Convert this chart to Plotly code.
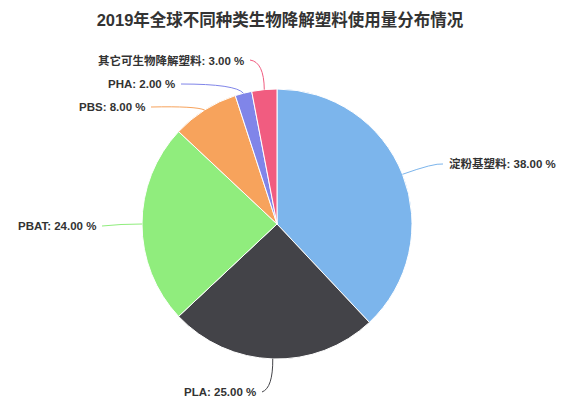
import math
import plotly.graph_objects as go

# ---- data ----
categories = ["淀粉基塑料", "PLA", "PBAT", "PBS", "PHA", "其它可生物降解塑料"]
shares = [38.0, 25.0, 24.0, 8.0, 2.0, 3.0]
colors = ["#7cb5ec", "#434348", "#90ed7d", "#f7a35c", "#8085e9", "#f15c80"]
title_text = "2019年全球不同种类生物降解塑料使用量分布情况"

# ---- layout (pixels, top-left origin) ----
W, H = 572, 406
CX, CY, R = 277, 224, 135
# label anchor (x, y, side) and connector bend point, per slice
label_pos = [(447, 164, "left"), (258, 392, "right"), (98, 226, "right"),
             (147, 107, "right"), (177, 84, "right"), (246, 60, "right")]
bends = [(434, 163), (273, 388), (120, 224), (196, 106), (236, 84), (264, 62)]

def px(x):
    return x / W

def py(y):
    return 1 - y / H

fig = go.Figure(go.Pie(
    labels=categories, values=shares, sort=False, direction="clockwise",
    rotation=0, textinfo="none", hoverinfo="label+percent",
    marker=dict(colors=colors, line=dict(color="white", width=1)),
    domain=dict(x=[px(CX - R), px(CX + R)], y=[py(CY + R), py(CY - R)]),
    showlegend=False,
))

total = sum(shares)
cum = 0.0
shapes, annotations = [], []
for name, v, c, (lx, ly, side), (bx, by) in zip(categories, shares, colors,
                                                label_pos, bends):
    mid = (cum + v / 2) / total * 2 * math.pi
    cum += v
    ex = CX + R * math.sin(mid)
    ey = CY - R * math.cos(mid)
    tx = lx - 4 if side == "left" else lx + 4
    path = f"M {px(ex)},{py(ey)} Q {px(bx)},{py(by)} {px(tx)},{py(ly)}"
    shapes.append(dict(type="path", path=path, xref="paper", yref="paper",
                       line=dict(color=c, width=1)))
    annotations.append(dict(
        x=px(lx), y=py(ly), xref="paper", yref="paper",
        text=f"<b>{name}: {v:.2f} %</b>", showarrow=False,
        xanchor="left" if side == "left" else "right", yanchor="middle",
        font=dict(size=11.5, color="#333333",
                  family="Liberation Sans, Noto Sans CJK SC, sans-serif")))

fig.update_layout(
    width=W, height=H, margin=dict(l=0, r=0, t=0, b=0),
    paper_bgcolor="white", plot_bgcolor="white",
    title=dict(text=f"<b>{title_text}</b>", x=280 / W, xanchor="center",
               y=py(20), yanchor="middle",
               font=dict(size=16.5, color="#333333",
                         family="Liberation Sans, Noto Sans CJK SC, sans-serif")),
    shapes=shapes, annotations=annotations,
)

fig.write_html("out.html", config={"displayModeBar": False},
               post_script="document.body.style.margin='0px';"
                           "document.body.style.overflow='hidden';")
